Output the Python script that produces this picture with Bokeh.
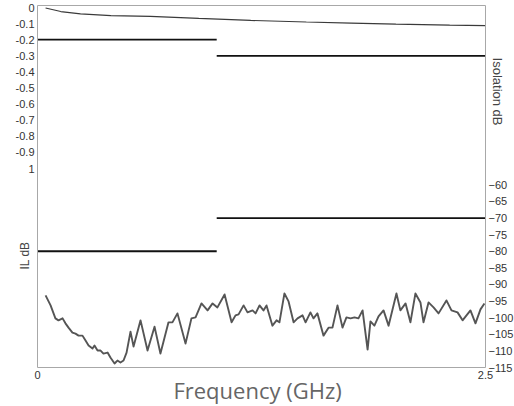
import math
from bokeh.plotting import figure
from bokeh.models import Range1d, LinearAxis, FixedTicker, Label
from bokeh.embed import file_html
from bokeh.resources import INLINE

# ---- data ----
il_freq = [0.045, 0.13, 0.24, 0.41, 0.63, 0.9, 1.19, 1.5, 1.75, 2.0, 2.3, 2.5]
il_db = [-0.003, -0.025, -0.04, -0.05, -0.055, -0.068, -0.08, -0.09, -0.097, -0.103, -0.11, -0.113]

iso_freq = [0.045, 0.073, 0.100, 0.117, 0.140, 0.156, 0.173, 0.195, 0.212, 0.229,
            0.251, 0.268, 0.285, 0.307, 0.318, 0.335, 0.352, 0.368, 0.391, 0.407,
            0.430, 0.446, 0.463, 0.480, 0.497, 0.519, 0.536, 0.575, 0.614, 0.653,
            0.686, 0.731, 0.753, 0.781, 0.826, 0.859, 0.882, 0.915, 0.949, 0.977,
            1.004, 1.044, 1.083, 1.105, 1.122, 1.150, 1.172, 1.200, 1.217, 1.239,
            1.261, 1.278, 1.311, 1.334, 1.350, 1.378, 1.401, 1.429, 1.451, 1.479,
            1.496, 1.523, 1.540, 1.562, 1.596, 1.624, 1.646, 1.674, 1.702, 1.724,
            1.747, 1.769, 1.791, 1.814, 1.842, 1.858, 1.880, 1.903, 1.931, 1.959,
            2.003, 2.025, 2.054, 2.081, 2.109, 2.137, 2.154, 2.182, 2.210, 2.238,
            2.282, 2.310, 2.344, 2.372, 2.416, 2.444, 2.472, 2.494]
iso_db = [-93.3, -96.3, -100.2, -100.8, -100.2, -101.7, -103.0, -104.5, -104.8, -105.4,
          -105.4, -106.9, -108.4, -109.3, -108.4, -109.9, -109.9, -110.8, -110.5, -112.0,
          -113.8, -112.9, -113.5, -112.9, -110.5, -104.2, -108.7, -100.8, -109.9, -102.7,
          -110.8, -101.4, -101.4, -98.7, -107.8, -100.2, -99.9, -95.7, -97.8, -95.7,
          -96.9, -93.0, -101.4, -99.3, -99.0, -96.3, -98.4, -97.8, -98.7, -96.3,
          -97.8, -96.3, -102.4, -100.8, -101.4, -92.7, -95.1, -101.4, -100.2, -99.3,
          -101.4, -98.4, -100.2, -98.7, -105.4, -103.0, -103.0, -96.3, -103.0, -99.9,
          -100.2, -99.9, -100.2, -97.8, -109.6, -101.1, -102.4, -99.6, -97.8, -102.4,
          -92.7, -97.8, -95.7, -101.4, -92.7, -95.4, -101.4, -95.4, -96.9, -98.7,
          -94.8, -97.8, -98.4, -100.8, -97.8, -101.7, -97.5, -95.7]

# specification limits (start freq, end freq, value)
il_spec_f0 = [0.0, 1.0]
il_spec_f1 = [1.0, 2.5]
il_spec_db = [-0.2, -0.3]
iso_spec_f0 = [0.0, 1.0]
iso_spec_f1 = [1.0, 2.5]
iso_spec_db = [-80, -70]

x_ticks = [0, 2.5]
x_tick_labels = ["0", "2.5"]
il_ticks = [0, -0.1, -0.2, -0.3, -0.4, -0.5, -0.6, -0.7, -0.8, -0.9, -1.0]
il_tick_labels = ["0", "-0.1", "-0.2", "-0.3", "-0.4", "-0.5", "-0.6", "-0.7", "-0.8", "-0.9", "1"]
iso_ticks = [-60, -65, -70, -75, -80, -85, -90, -95, -100, -105, -110, -115]

# plotted box limits
x_lo, x_hi = 0.0, 2.5
il_lo, il_hi = -2.236, 0.0124
iso_lo, iso_hi = -115, -6

# ---- figure: frame spans the canvas, axes sit at fixed locations ----
p = figure(width=514, height=406, output_backend="svg", toolbar_location=None,
           x_range=Range1d(-0.2065, 2.6618), y_range=Range1d(-2.478, 0.0435),
           min_border=0, x_axis_location=None, y_axis_location=None)
p.extra_y_ranges = {"iso": Range1d(-126.74, -4.494)}
p.background_fill_color = "white"
p.border_fill_color = "white"
p.outline_line_color = None
p.xgrid.visible = False
p.ygrid.visible = False

tick_font = "Liberation Sans"
tick_color = "#333333"
frame_color = "#a8a8a8"

xa = LinearAxis(ticker=FixedTicker(ticks=x_ticks), fixed_location=il_lo, bounds=(x_lo, x_hi))
xa.major_label_overrides = {t: l for t, l in zip(x_ticks, x_tick_labels)}
p.add_layout(xa, "below")

ta = LinearAxis(ticker=FixedTicker(ticks=[]), fixed_location=il_hi, bounds=(x_lo, x_hi))
p.add_layout(ta, "above")

ya = LinearAxis(ticker=FixedTicker(ticks=il_ticks), fixed_location=x_lo, bounds=(il_lo, il_hi))
ya.major_label_overrides = {t: l for t, l in zip(il_ticks, il_tick_labels)}
p.add_layout(ya, "left")

ra = LinearAxis(y_range_name="iso", ticker=FixedTicker(ticks=iso_ticks),
                fixed_location=x_hi, bounds=(iso_lo, iso_hi))
p.add_layout(ra, "right")

for ax in (xa, ta, ya, ra):
    ax.axis_line_color = frame_color
    ax.axis_line_width = 1
    ax.major_tick_line_color = None
    ax.minor_tick_line_color = None
    ax.major_tick_out = 0
    ax.major_tick_in = 0
    ax.major_label_standoff = 3
    ax.major_label_text_font = tick_font
    ax.major_label_text_font_size = "11px"
    ax.major_label_text_color = tick_color

# curves
p.line(il_freq, il_db, line_color="#3a3a3a", line_width=1.2)
p.line(iso_freq, iso_db, line_color="#555555", line_width=1.9, y_range_name="iso",
       line_join="round")

# spec lines
p.segment(x0=il_spec_f0, x1=il_spec_f1, y0=il_spec_db, y1=il_spec_db,
          line_color="#111111", line_width=1.8)
p.segment(x0=iso_spec_f0, x1=iso_spec_f1, y0=iso_spec_db, y1=iso_spec_db,
          line_color="#111111", line_width=1.8, y_range_name="iso")

# axis titles
p.add_layout(Label(x=-0.067, y=-1.54, text="IL dB", angle=math.pi / 2,
                   text_align="center", text_baseline="middle",
                   text_font=tick_font, text_font_size="12px", text_color="#444444"))
p.add_layout(Label(x=2.567, y=-0.522, text="Isolation dB", angle=-math.pi / 2,
                   text_align="center", text_baseline="middle",
                   text_font=tick_font, text_font_size="13px", text_color="#444444"))
p.add_layout(Label(x=1.228, y=-2.373, text="Frequency (GHz)",
                   text_align="center", text_baseline="middle",
                   text_font="Open Sans", text_font_size="22px", text_color="#666666"))

open("out.html", "w").write(file_html(p, INLINE))
